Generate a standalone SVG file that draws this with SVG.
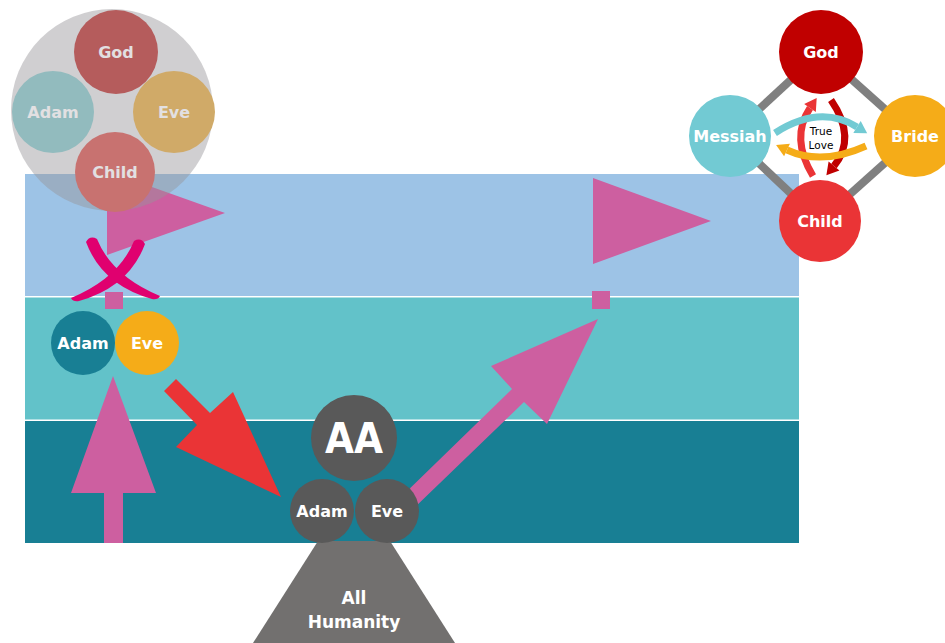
<svg xmlns="http://www.w3.org/2000/svg" width="945" height="643" viewBox="0 0 945 643">
<style>
.lbl{font-family:"DejaVu Sans","Verdana",sans-serif;font-weight:bold;font-size:16px;text-anchor:middle;fill:#fff}
.pale{fill:#E2E0E2}
.pink{fill:#CD5FA0}
.dl{stroke:#808080;stroke-width:8}
.arc{fill:none;stroke-width:7}
</style>
<defs>
<marker id="mTeal" markerUnits="userSpaceOnUse" markerWidth="16" markerHeight="16" viewBox="-2 -8 16 16" refX="0" refY="0" orient="auto"><path d="M0,-7 L12,0 L0,7 Z" fill="#72CAD3"/></marker>
<marker id="mOrange" markerUnits="userSpaceOnUse" markerWidth="16" markerHeight="16" viewBox="-2 -8 16 16" refX="0" refY="0" orient="auto"><path d="M0,-7 L12,0 L0,7 Z" fill="#F5AC18"/></marker>
<marker id="mRed" markerUnits="userSpaceOnUse" markerWidth="16" markerHeight="16" viewBox="-2 -8 16 16" refX="0" refY="0" orient="auto"><path d="M0,-7 L12,0 L0,7 Z" fill="#EA3436"/></marker>
<marker id="mDark" markerUnits="userSpaceOnUse" markerWidth="16" markerHeight="16" viewBox="-2 -8 16 16" refX="0" refY="0" orient="auto"><path d="M0,-7 L12,0 L0,7 Z" fill="#C00000"/></marker>
</defs>

<g id="bands">
<rect x="25" y="174" width="774" height="122" fill="#9DC3E6"/>
<rect x="25" y="297.5" width="774" height="122" fill="#62C2C9"/>
<rect x="25" y="421" width="774" height="122" fill="#187F94"/>
</g>

<g id="flag-left">
<polygon class="pink" points="107,171 225,213 107,255"/>
</g>

<g id="origin-cluster">
<circle cx="112" cy="110" r="101" fill="#969498" fill-opacity="0.45"/>
<g id="tl-god"><circle cx="116" cy="52" r="42" fill="#B55C5C"/><text class="lbl pale" x="116" y="58">God</text></g>
<g id="tl-adam"><circle cx="53" cy="112" r="41" fill="#92BBBE"/><text class="lbl pale" x="53" y="118">Adam</text></g>
<g id="tl-eve"><circle cx="174" cy="112" r="41" fill="#D0AA68"/><text class="lbl pale" x="174" y="118">Eve</text></g>
<g id="tl-child"><circle cx="115" cy="172" r="40" fill="#C87270"/><text class="lbl pale" x="115" y="178">Child</text></g>
</g>

<g id="cross">
<path d="M86,242 Q90,235 97,239 Q112,276 160,296 Q158,300 152,299 Q102,285 86,242 Z" fill="#E0006F"/>
<path d="M86,242 Q90,235 97,239 Q112,276 160,296 Q158,300 152,299 Q102,285 86,242 Z" fill="#E0006F" transform="matrix(-1 0 0 1 231 2)"/>
</g>

<g id="connectors">
<rect class="pink" x="105" y="292" width="18" height="17"/>
<rect class="pink" x="592" y="291" width="18" height="18"/>
<polygon class="pink" points="113,376 156,493 123,493 123,543 104,543 104,493 71,493"/>
<polygon fill="#EA3436" points="176,379 210,413 233,392 281,497 176,447 197,425 164,391"/>
<polygon class="pink" points="598,319 547,424 524,402 412,510 400,498 512,389 491,366"/>
</g>

<g id="flag-right">
<polygon class="pink" points="593,178 711,221 593,264"/>
</g>

<g id="mid-adam"><circle cx="83" cy="343" r="32" fill="#187F94"/><text class="lbl" x="83" y="349">Adam</text></g>
<g id="mid-eve"><circle cx="147" cy="343" r="32" fill="#F5AC18"/><text class="lbl" x="147" y="349">Eve</text></g>

<g id="humanity">
<polygon points="318,541 390,541 455,643 253,643" fill="#72706F"/>
<text class="lbl" x="354" y="604" style="font-size:17px">All</text>
<text class="lbl" x="354" y="628" style="font-size:17px">Humanity</text>
</g>
<g id="aa"><circle cx="354" cy="438" r="43" fill="#595959"/><text class="lbl" x="354" y="453" style="font-size:42px" textLength="58" lengthAdjust="spacingAndGlyphs">AA</text></g>
<g id="bot-adam"><circle cx="322" cy="511" r="32" fill="#595959"/><text class="lbl" x="322" y="517">Adam</text></g>
<g id="bot-eve"><circle cx="387" cy="511" r="32" fill="#595959"/><text class="lbl" x="387" y="517">Eve</text></g>

<g id="diamond-lines">
<line class="dl" x1="821" y1="52" x2="730" y2="136"/>
<line class="dl" x1="821" y1="52" x2="915" y2="136"/>
<line class="dl" x1="730" y1="136" x2="820" y2="221"/>
<line class="dl" x1="915" y1="136" x2="820" y2="221"/>
</g>
<g id="tr-god"><circle cx="821" cy="52" r="42" fill="#C00000"/><text class="lbl" x="821" y="58">God</text></g>
<g id="tr-messiah"><circle cx="730" cy="136" r="41" fill="#72CAD3"/><text class="lbl" x="730" y="142">Messiah</text></g>
<g id="tr-bride"><circle cx="915" cy="136" r="41" fill="#F5AC18"/><text class="lbl" x="915" y="142">Bride</text></g>
<g id="tr-child"><circle cx="820" cy="221" r="41" fill="#EA3436"/><text class="lbl" x="820" y="227">Child</text></g>

<g id="love-arrows">
<path class="arc" stroke="#EA3436" d="M813,176 Q790,138 810,108" marker-end="url(#mRed)"/>
<path class="arc" stroke="#C00000" d="M831,100 Q857,138 834,166" marker-end="url(#mDark)"/>
<path class="arc" stroke="#72CAD3" d="M775,133 Q820,104 857,127" marker-end="url(#mTeal)"/>
<path class="arc" stroke="#F5AC18" d="M866,146 Q822,166 787,150" marker-end="url(#mOrange)"/>
<g id="true-love" style="font-family:'DejaVu Sans',Verdana,sans-serif;font-size:10.5px;text-anchor:middle;fill:#000">
<text x="821" y="135">True</text>
<text x="821" y="149">Love</text>
</g>
</g>
</svg>
